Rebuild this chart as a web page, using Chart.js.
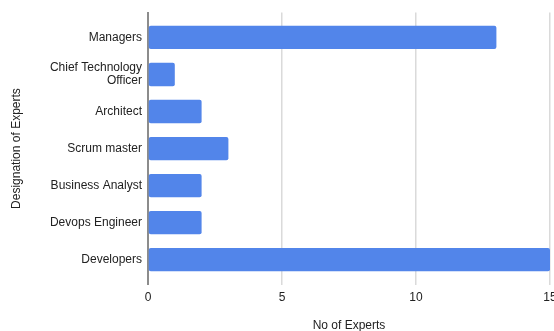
<!DOCTYPE html>
<html>
<head>
<meta charset="utf-8">
<script src="https://cdn.jsdelivr.net/npm/chart.js@4/dist/chart.umd.min.js"></script>
<style>
  html, body { margin: 0; padding: 0; background: #ffffff; }
  #wrap { width: 554px; height: 331px; position: relative; }
</style>
</head>
<body>
<div id="wrap"><canvas id="c" width="554" height="331"></canvas></div>
<script>
const categories = [
  'Managers',
  ['Chief Technology', 'Officer'],
  'Architect',
  'Scrum master',
  'Business Analyst',
  'Devops Engineer',
  'Developers'
];
const expertCounts = [13, 1, 2, 3, 2, 2, 15];
const xTicks = [0, 5, 10, 15];
const xTitle = 'No of Experts';
const yTitle = 'Designation of Experts';

const points = expertCounts.map((v, i) => ({ x: v, y: i }));
const FONT = 'Arial, "Liberation Sans", sans-serif';

new Chart(document.getElementById('c'), {
  type: 'bar',
  data: {
    datasets: [{
      label: xTitle,
      data: points,
      backgroundColor: '#5285ea',
      borderWidth: 0,
      borderRadius: 2,
      borderSkipped: false,
      barPercentage: 0.63,
      categoryPercentage: 1
    }]
  },
  options: {
    indexAxis: 'y',
    responsive: false,
    animation: false,
    layout: { padding: { top: 11, right: 4, bottom: 0, left: 0 } },
    plugins: { legend: { display: false }, tooltip: { enabled: false } },
    scales: {
      x: {
        type: 'linear',
        bounds: 'data',
        offset: false,
        min: xTicks[0],
        max: xTicks[xTicks.length - 1],
        afterBuildTicks: (s) => { s.ticks = xTicks.map(v => ({ value: v })); },
        afterFit: (s) => { s.paddingLeft = 0; s.paddingRight = 0; s.height = 46.5; },
        grid: { color: '#dadada', lineWidth: 1.5, drawTicks: false, offset: false },
        border: { display: false },
        ticks: { padding: 6, color: '#222', font: { family: FONT, size: 12 } },
        title: {
          display: true, text: xTitle, color: '#222',
          font: { family: FONT, size: 12 },
          padding: { top: 12, bottom: -2 }
        }
      },
      y: {
        type: 'linear',
        bounds: 'data',
        offset: false,
        reverse: true,
        min: -0.67,
        max: categories.length - 1 + 0.67,
        afterBuildTicks: (s) => { s.ticks = categories.map((c, i) => ({ value: i })); },
        afterFit: (s) => { s.width = 148; },
        grid: { display: false, drawTicks: false, offset: false },
        border: { display: true, color: '#8c8c8c', width: 2 },
        ticks: {
          padding: 6,
          color: '#222',
          autoSkip: false,
          font: { family: FONT, size: 12, lineHeight: 1.1 },
          callback: (v) => (Number.isInteger(v) && v >= 0 && v < categories.length) ? categories[v] : ''
        },
        title: {
          display: true, text: yTitle, color: '#222',
          font: { family: FONT, size: 12 },
          padding: { top: 9, bottom: 0 }
        }
      }
    }
  }
});
</script>
</body>
</html>
